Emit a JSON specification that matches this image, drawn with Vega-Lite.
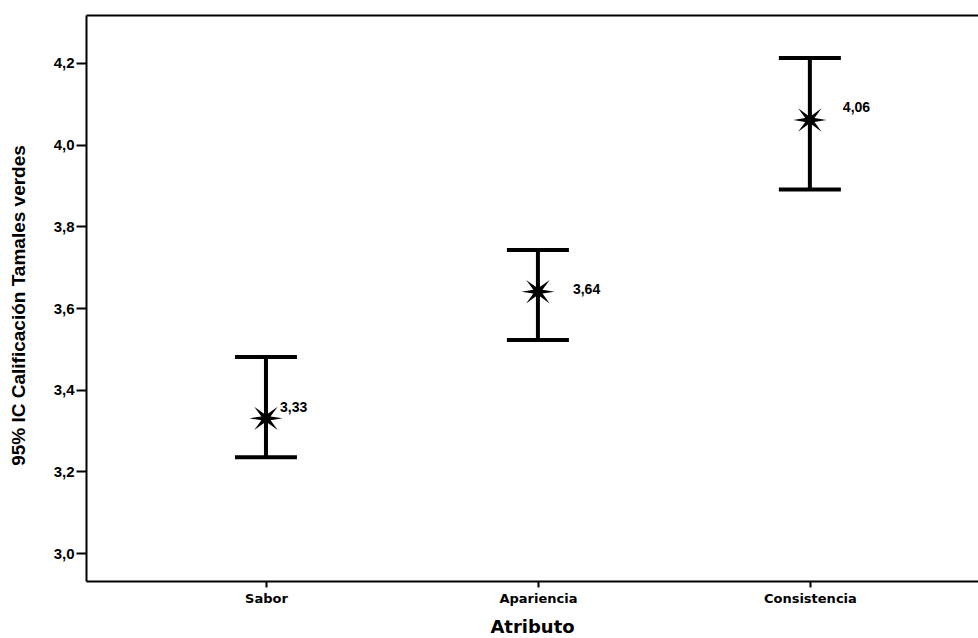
{
  "$schema": "https://vega.github.io/schema/vega-lite/v6.json",
  "autosize": "none",
  "width": 892,
  "height": 566,
  "padding": {"left": 86, "top": 15, "right": 0, "bottom": 57},
  "background": "white",
  "config": {
    "view": {"stroke": null},
    "locale": {
      "number": {"decimal": ",", "thousands": ".", "grouping": [3], "currency": ["", " €"]}
    },
    "axis": {
      "domainColor": "black",
      "domainWidth": 2,
      "tickColor": "black",
      "tickWidth": 2,
      "labelColor": "black",
      "titleColor": "black",
      "grid": false
    }
  },
  "data": {
    "values": [
      {"Atributo": "Sabor", "media": 3.33, "inferior": 3.235, "superior": 3.48},
      {"Atributo": "Apariencia", "media": 3.64, "inferior": 3.522, "superior": 3.742},
      {"Atributo": "Consistencia", "media": 4.06, "inferior": 3.89, "superior": 4.212}
    ]
  },
  "resolve": {"axis": {"x": "independent"}},
  "layer": [
    {
      "mark": {"type": "rule", "strokeWidth": 4, "color": "black"},
      "encoding": {
        "x": {
          "field": "Atributo",
          "type": "nominal",
          "sort": ["Sabor", "Apariencia", "Consistencia"],
          "scale": {"type": "point", "padding": 0.64, "align": 0.517},
          "axis": {
            "title": "Atributo",
            "titleFont": "DejaVu Sans",
            "titleFontSize": 18,
            "titleFontWeight": "bold",
            "titlePadding": 13,
            "labelFont": "DejaVu Sans",
            "labelFontSize": 13,
            "labelFontWeight": "bold",
            "labelPadding": 5,
            "labelAngle": 0,
            "tickSize": 6
          }
        },
        "y": {
          "field": "inferior",
          "type": "quantitative",
          "scale": {"domain": [2.932, 4.317], "nice": false, "zero": false},
          "axis": {
            "title": "95% IC Calificación Tamales verdes",
            "titleFont": "Liberation Sans",
            "titleFontSize": 19,
            "titleFontWeight": "bold",
            "titleX": -68,
            "titleY": 290,
            "titleAngle": -90,
            "titleAlign": "center",
            "titleBaseline": "middle",
            "values": [3.0, 3.2, 3.4, 3.6, 3.8, 4.0, 4.2],
            "format": ".1f",
            "labelFont": "Liberation Sans",
            "labelFontSize": 15,
            "labelFontWeight": "bold",
            "labelPadding": 2,
            "tickSize": 10
          }
        },
        "y2": {"field": "superior"}
      }
    },
    {
      "mark": {"type": "tick", "size": 62, "thickness": 4, "color": "black", "opacity": 1},
      "encoding": {
        "x": {"field": "Atributo", "type": "nominal", "sort": ["Sabor", "Apariencia", "Consistencia"], "axis": null},
        "y": {"field": "inferior", "type": "quantitative"}
      }
    },
    {
      "mark": {"type": "tick", "size": 62, "thickness": 4, "color": "black", "opacity": 1},
      "encoding": {
        "x": {"field": "Atributo", "type": "nominal", "sort": ["Sabor", "Apariencia", "Consistencia"], "axis": null},
        "y": {"field": "superior", "type": "quantitative"}
      }
    },
    {
      "mark": {
        "type": "point",
        "filled": true,
        "color": "black",
        "opacity": 1,
        "size": 1100,
        "shape": "M1,0 L0.277,0.115 L0.707,0.707 L0.115,0.277 L0,1 L-0.115,0.277 L-0.707,0.707 L-0.277,0.115 L-1,0 L-0.277,-0.115 L-0.707,-0.707 L-0.115,-0.277 L0,-1 L0.115,-0.277 L0.707,-0.707 L0.277,-0.115 Z"
      },
      "encoding": {
        "x": {"field": "Atributo", "type": "nominal", "sort": ["Sabor", "Apariencia", "Consistencia"], "axis": null},
        "y": {"field": "media", "type": "quantitative"}
      }
    },
    {
      "transform": [{"filter": "datum.Atributo === 'Sabor'"}],
      "mark": {"type": "text", "align": "left", "baseline": "middle", "dx": 14, "dy": -10, "font": "Liberation Sans", "fontSize": 14, "fontWeight": "bold", "color": "black"},
      "encoding": {
        "x": {"field": "Atributo", "type": "nominal", "sort": ["Sabor", "Apariencia", "Consistencia"], "axis": null},
        "y": {"field": "media", "type": "quantitative"},
        "text": {"field": "media", "type": "quantitative", "format": ".2f"}
      }
    },
    {
      "transform": [{"filter": "datum.Atributo === 'Apariencia'"}],
      "mark": {"type": "text", "align": "left", "baseline": "middle", "dx": 35, "dy": -2, "font": "Liberation Sans", "fontSize": 14, "fontWeight": "bold", "color": "black"},
      "encoding": {
        "x": {"field": "Atributo", "type": "nominal", "sort": ["Sabor", "Apariencia", "Consistencia"], "axis": null},
        "y": {"field": "media", "type": "quantitative"},
        "text": {"field": "media", "type": "quantitative", "format": ".2f"}
      }
    },
    {
      "transform": [{"filter": "datum.Atributo === 'Consistencia'"}],
      "mark": {"type": "text", "align": "left", "baseline": "middle", "dx": 33, "dy": -12, "font": "Liberation Sans", "fontSize": 14, "fontWeight": "bold", "color": "black"},
      "encoding": {
        "x": {"field": "Atributo", "type": "nominal", "sort": ["Sabor", "Apariencia", "Consistencia"], "axis": null},
        "y": {"field": "media", "type": "quantitative"},
        "text": {"field": "media", "type": "quantitative", "format": ".2f"}
      }
    },
    {
      "mark": {"type": "point", "opacity": 0},
      "encoding": {
        "x": {
          "field": "Atributo",
          "type": "nominal",
          "sort": ["Sabor", "Apariencia", "Consistencia"],
          "axis": {"orient": "top", "labels": false, "ticks": false, "title": null, "domain": true}
        },
        "y": {"field": "media", "type": "quantitative"}
      }
    }
  ]
}
